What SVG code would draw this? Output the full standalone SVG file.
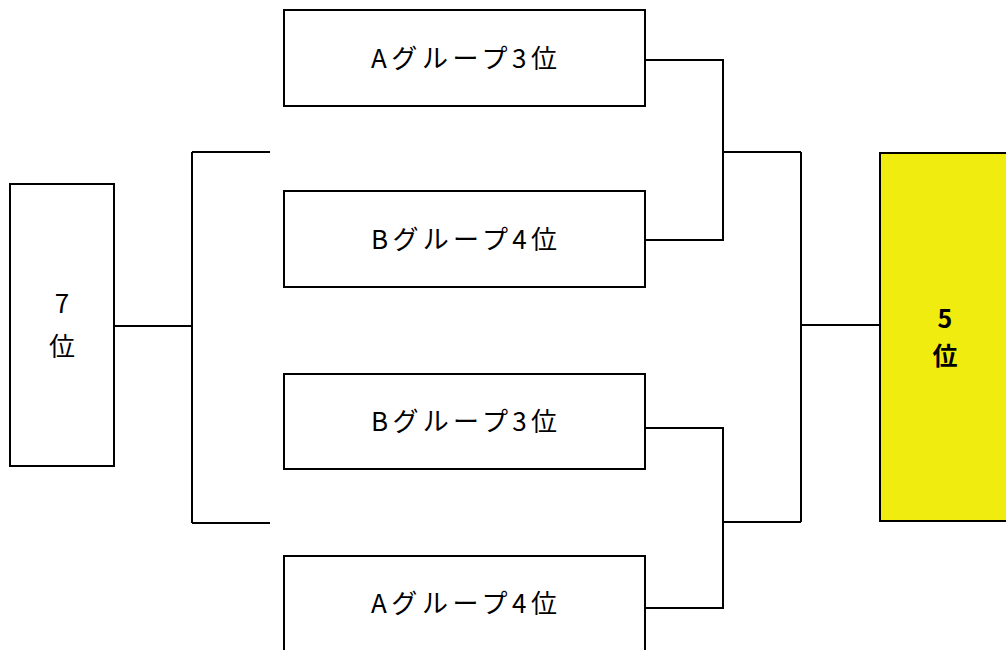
<svg xmlns="http://www.w3.org/2000/svg" width="1006" height="650" viewBox="0 0 1006 650">
<style>
.box{fill:#fff;stroke:#000;stroke-width:2}
.win{fill:#f0ec10;stroke:#000;stroke-width:2}
.t{font-family:"Noto Sans CJK JP","Noto Sans",sans-serif;font-size:26px;fill:#000;text-anchor:middle;dominant-baseline:central}
.b{font-weight:bold;font-size:25px}
.c{fill:none;stroke:#000;stroke-width:2}
</style>
<rect width="1006" height="650" fill="#fff"/>
<g id="connectors">
<path class="c" d="M114 326H192M192 152V523M192 152H270M192 523H270"/>
<path class="c" d="M645 60H723V240H645M723 152H801M645 428H723V608H645M723 522H801M801 152V522M801 325H880"/>
</g>
<g id="n7"><rect class="box" x="10" y="184" width="104" height="282"/><text class="t"><tspan x="62" y="301">7</tspan><tspan x="62" y="344">位</tspan></text></g>
<g id="a3"><rect class="box" x="284" y="10" width="361" height="96"/><text class="t" x="464" y="56" textLength="186" lengthAdjust="spacing">Aグループ3位</text></g>
<g id="b4"><rect class="box" x="284" y="191" width="361" height="96"/><text class="t" x="464" y="237" textLength="186" lengthAdjust="spacing">Bグループ4位</text></g>
<g id="b3"><rect class="box" x="284" y="374" width="361" height="95"/><text class="t" x="464" y="419" textLength="186" lengthAdjust="spacing">Bグループ3位</text></g>
<g id="a4"><rect class="box" x="284" y="556" width="361" height="100"/><text class="t" x="464" y="601" textLength="186" lengthAdjust="spacing">Aグループ4位</text></g>
<g id="n5"><rect class="win" x="880" y="153" width="130" height="368"/><text class="t b"><tspan x="945" y="317">5</tspan><tspan x="945" y="354">位</tspan></text></g>
</svg>
